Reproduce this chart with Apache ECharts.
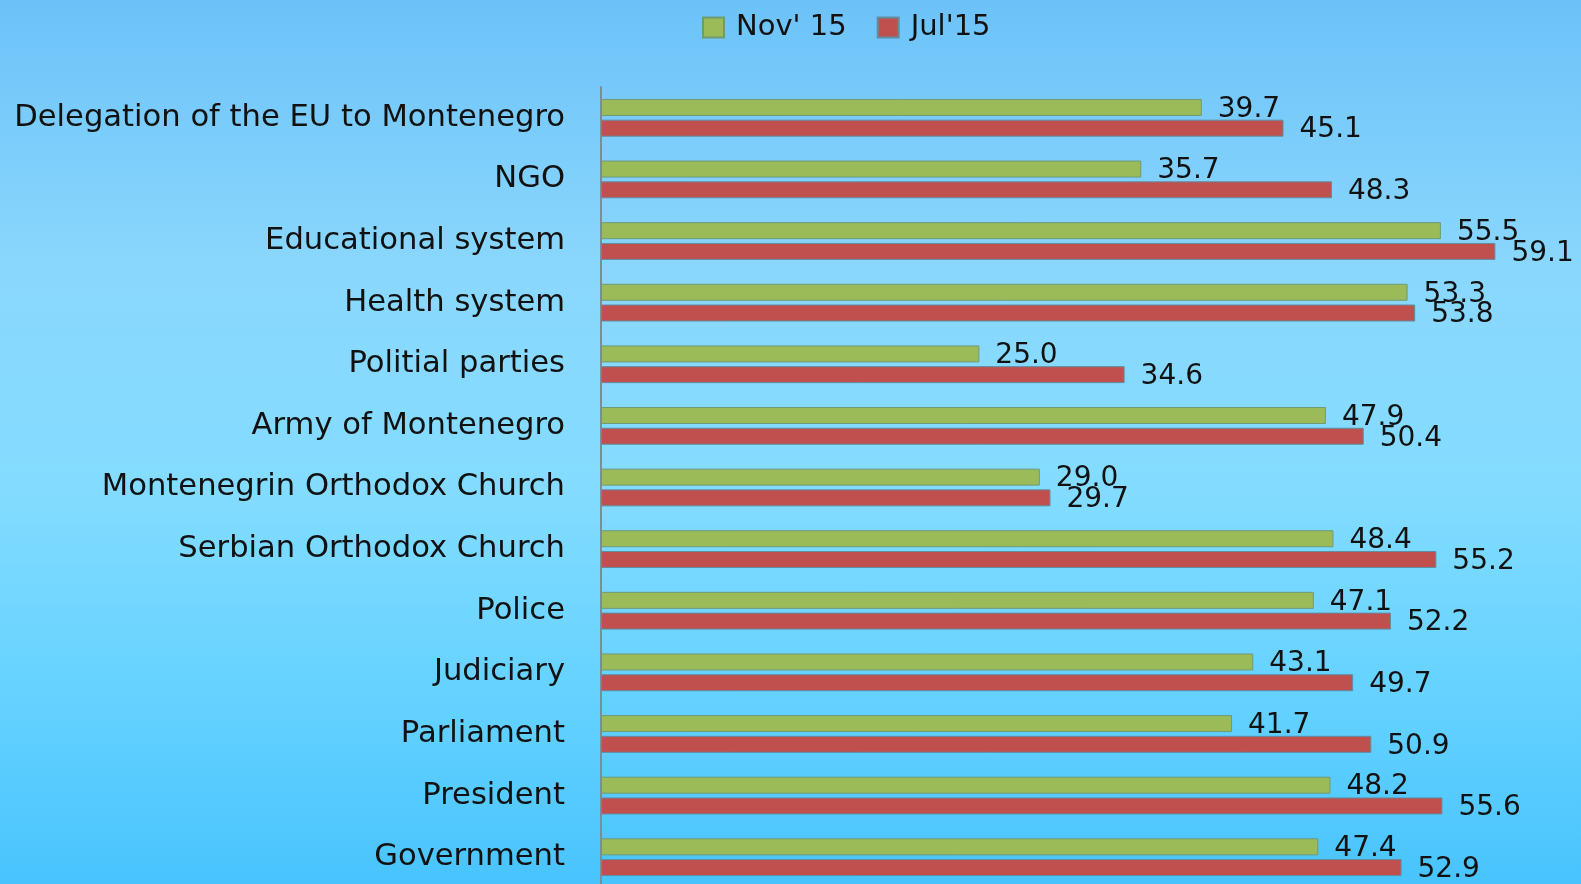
<!DOCTYPE html>
<html>
<head>
<meta charset="utf-8">
<script src="https://cdn.jsdelivr.net/npm/echarts@6/dist/echarts.min.js"></script>
<style>
html,body{margin:0;padding:0;width:1581px;height:884px;overflow:hidden;}
#chart{width:1581px;height:888px;}
</style>
</head>
<body>
<div id="chart"></div>
<script>
const categories = [
  'Delegation of the EU to Montenegro',
  'NGO',
  'Educational system',
  'Health system',
  'Politial parties',
  'Army of Montenegro',
  'Montenegrin Orthodox Church',
  'Serbian Orthodox Church',
  'Police',
  'Judiciary',
  'Parliament',
  'President',
  'Government'
];
const nov15 = [39.7, 35.7, 55.5, 53.3, 25.0, 47.9, 29.0, 48.4, 47.1, 43.1, 41.7, 48.2, 47.4];
const jul15 = [45.1, 48.3, 59.1, 53.8, 34.6, 50.4, 29.7, 55.2, 52.2, 49.7, 50.9, 55.6, 52.9];
const seriesNames = ["Nov' 15", "Jul'15"];

const FONT = 'DejaVu Sans';
const chart = echarts.init(document.getElementById('chart'), null, {renderer: 'canvas'});

const labelCfg = {
  show: true,
  position: 'right',
  distance: 16,
  offset: [0, 2],
  color: '#111',
  fontFamily: FONT,
  fontSize: 28,
  formatter: p => Number(p.value).toFixed(1)
};

chart.setOption({
  animation: false,
  backgroundColor: {
    type: 'linear', x: 0, y: 0, x2: 0, y2: 1,
    colorStops: [
      {offset: 0, color: '#6cc2f8'},
      {offset: 0.3, color: '#8ad7fd'},
      {offset: 0.55, color: '#83dcff'},
      {offset: 0.8, color: '#62d1ff'},
      {offset: 1, color: '#48c3fd'}
    ]
  },
  legend: {
    data: seriesNames,
    left: 697,
    top: 8,
    itemWidth: 21,
    itemHeight: 20,
    itemGap: 30,
    icon: 'rect',
    textStyle: {fontFamily: FONT, fontSize: 29, color: '#111', padding: [0, 0, 0, 7]}
  },
  grid: {left: 601, top: 87, right: 72, bottom: 0, containLabel: false},
  xAxis: {
    type: 'value',
    min: 0,
    max: 60,
    show: false
  },
  yAxis: {
    type: 'category',
    data: categories,
    inverse: true,
    axisLine: {show: true, lineStyle: {color: '#7d8d98', width: 2}},
    axisTick: {show: false},
    axisLabel: {fontFamily: FONT, fontSize: 30.6, color: '#111', margin: 36, padding: [5, 0, 0, 0]},
    splitLine: {show: false}
  },
  series: [
    {
      name: seriesNames[0],
      type: 'bar',
      data: nov15,
      barWidth: 17,
      barGap: '22%',
      itemStyle: {color: '#9bbb59', borderColor: '#6f9a78', borderWidth: 1},
      label: labelCfg
    },
    {
      name: seriesNames[1],
      type: 'bar',
      data: jul15,
      barWidth: 17,
      barGap: '22%',
      itemStyle: {color: '#c0504d', borderColor: '#5f8ea3', borderWidth: 1},
      label: labelCfg
    }
  ]
});
</script>
</body>
</html>
